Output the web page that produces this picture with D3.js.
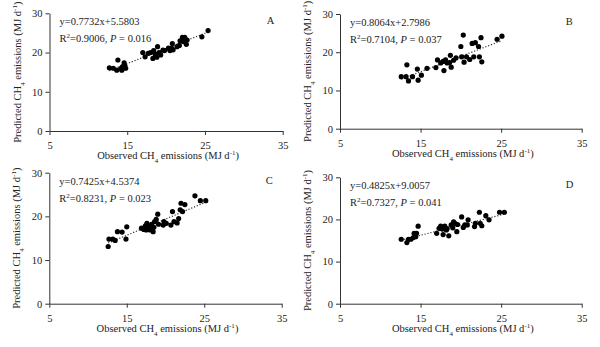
<!DOCTYPE html>
<html>
<head>
<meta charset="utf-8">
<script src="https://cdn.jsdelivr.net/npm/d3@7"></script>
<style>
  body { margin: 0; background: #fff; }
  text { font-family: "Liberation Serif", "Times New Roman", serif; fill: #222; }
</style>
</head>
<body>
<div id="chart"></div>
<script>
// observed / predicted CH4 emissions
const obsA = [12.7, 13.2, 13.65, 13.8, 14.2, 14.3, 14.4, 14.6, 14.7, 14.8, 17.0, 17.3, 17.7, 18.0, 18.3, 18.4, 18.6, 18.8, 18.9, 19.1, 19.3, 19.6, 19.8, 20.3, 20.5, 20.7, 20.8, 20.9, 21.4, 21.7, 21.8, 22.1, 22.2, 22.4, 22.6, 22.7, 24.6, 25.4];
const predA = [16.1, 16.0, 15.5, 18.1, 16.0, 15.5, 16.4, 17.4, 16.6, 16.0, 20.0, 18.9, 19.8, 20.0, 18.5, 20.5, 19.6, 18.8, 21.5, 20.0, 19.4, 20.6, 20.5, 21.1, 20.5, 21.1, 22.3, 20.7, 21.5, 21.8, 23.0, 23.9, 22.8, 23.9, 22.1, 23.2, 24.0, 25.6];

const obsB = [12.6, 13.2, 13.3, 13.5, 14.0, 14.6, 14.7, 15.1, 15.8, 16.9, 17.1, 17.5, 17.8, 17.9, 18.1, 18.3, 18.6, 18.7, 18.8, 19.1, 19.4, 20.0, 20.1, 20.3, 20.4, 20.7, 21.1, 21.4, 21.6, 21.8, 22.2, 22.3, 22.5, 22.6, 24.5, 25.1];
const predB = [13.6, 13.6, 16.7, 12.5, 13.6, 15.6, 12.7, 14.0, 15.8, 16.0, 18.0, 17.2, 17.6, 15.2, 18.0, 17.2, 17.3, 19.2, 16.1, 17.9, 18.5, 21.5, 18.8, 24.5, 17.4, 18.8, 18.1, 22.3, 18.8, 22.5, 21.5, 18.8, 23.8, 17.5, 23.4, 24.2];

const obsC = [12.6, 12.7, 13.2, 13.5, 13.8, 14.4, 15.0, 14.9, 16.9, 17.2, 17.4, 17.5, 17.6, 17.9, 18.0, 18.2, 18.4, 18.5, 18.6, 18.8, 19.0, 19.1, 19.7, 19.8, 20.1, 20.7, 20.9, 21.1, 21.5, 21.7, 21.9, 22.0, 22.2, 22.5, 23.8, 24.5, 25.2];
const predC = [13.1, 14.8, 14.8, 14.5, 16.5, 16.4, 17.6, 14.8, 17.3, 17.0, 17.8, 16.9, 18.4, 17.6, 16.9, 18.2, 16.5, 17.5, 18.8, 19.3, 20.5, 18.2, 18.0, 18.8, 18.4, 18.0, 21.1, 18.8, 18.5, 19.5, 21.5, 23.0, 21.1, 22.7, 24.7, 23.6, 23.6];

const obsD = [12.6, 13.3, 13.5, 13.8, 14.1, 14.2, 14.4, 14.5, 14.7, 17.0, 17.3, 17.5, 17.7, 17.8, 18.0, 18.2, 18.3, 18.5, 18.8, 19.0, 19.1, 19.3, 19.5, 19.6, 20.1, 20.3, 20.5, 20.8, 20.9, 21.7, 21.8, 22.3, 22.4, 22.6, 23.1, 23.5, 24.8, 25.4];
const predD = [15.3, 14.5, 15.3, 15.3, 15.7, 16.7, 15.9, 16.7, 18.4, 16.7, 17.9, 18.4, 17.7, 16.4, 18.4, 17.5, 17.8, 16.1, 18.7, 18.0, 19.4, 19.0, 17.1, 18.8, 20.6, 18.1, 18.7, 18.7, 19.9, 18.3, 19.1, 21.7, 19.1, 18.5, 20.9, 19.9, 21.7, 21.7];

const panelLabels = ['A', 'B', 'C', 'D'];
const slopes = [0.7732, 0.8064, 0.7425, 0.4825];
const intercepts = [5.5803, 2.7986, 4.5374, 9.0057];
const r2Labels = ['0.9006', '0.7104', '0.8231', '0.7327'];
const pLabels = ['0.016', '0.037', '0.023', '0.041'];
const xTicks = [5, 15, 25, 35];
const yTicks = [0, 10, 20, 30];

const W = 600, H = 347;
const svg = d3.select('#chart').append('svg')
    .attr('width', W).attr('height', H);

// plot boxes in pixels: left, right, bottom, top
const boxes = [
    {x0: 49.5, x1: 282.7, y0: 131, y1: 13.3},
    {x0: 340, x1: 581.7, y0: 128.7, y1: 14},
    {x0: 49.3, x1: 281.7, y0: 303.7, y1: 172.7},
    {x0: 340, x1: 581.7, y0: 303.7, y1: 177.3}
];

const series = [
    {obs: obsA, pred: predA},
    {obs: obsB, pred: predB},
    {obs: obsC, pred: predC},
    {obs: obsD, pred: predD}
];

series.forEach((s, i) => {
    const b = boxes[i];
    const xScale = d3.scaleLinear().domain([5, 35]).range([b.x0, b.x1]);
    const yScale = d3.scaleLinear().domain([0, 30]).range([b.y0, b.y1]);

    const g = svg.append('g');

    const xAxis = d3.axisBottom(xScale).tickValues(xTicks).tickSize(4).tickSizeOuter(0);
    const yAxis = d3.axisLeft(yScale).tickValues(yTicks).tickSize(4).tickSizeOuter(0);

    const xg = g.append('g').attr('transform', 'translate(0,' + b.y0 + ')').call(xAxis);
    const yg = g.append('g').attr('transform', 'translate(' + b.x0 + ',0)').call(yAxis);
    [xg, yg].forEach(a => {
        a.select('.domain').attr('stroke', '#333');
        a.selectAll('.tick line').attr('stroke', '#333');
        a.selectAll('.tick text')
            .style('font-family', '"Liberation Serif", serif')
            .style('font-size', '10.5px')
            .attr('fill', '#222');
    });
    xg.selectAll('.tick text').attr('dy', '1.05em');
    yg.selectAll('.tick text').attr('x', -7);

    // trend line (dotted)
    const xmin = d3.min(s.obs), xmax = d3.max(s.obs);
    g.append('line')
        .attr('x1', xScale(xmin)).attr('y1', yScale(slopes[i] * xmin + intercepts[i]))
        .attr('x2', xScale(xmax)).attr('y2', yScale(slopes[i] * xmax + intercepts[i]))
        .attr('stroke', '#333')
        .attr('stroke-width', 1.2)
        .attr('stroke-dasharray', '1.2,1.8');

    // points
    g.selectAll('circle')
        .data(s.obs.map((o, k) => [o, s.pred[k]]))
        .enter()
        .append('circle')
        .attr('cx', d => xScale(d[0]))
        .attr('cy', d => yScale(d[1]))
        .attr('r', 2.6)
        .attr('fill', '#000');

    // equation and stats
    const tx = b.x0 + 10;
    g.append('text')
        .attr('x', tx).attr('y', b.y1 + 12)
        .style('font-size', '10.5px')
        .text('y=' + slopes[i] + 'x+' + intercepts[i].toFixed(4));
    const st = g.append('text')
        .attr('x', tx).attr('y', b.y1 + 29)
        .style('font-size', '10.5px');
    st.append('tspan').text('R');
    st.append('tspan').attr('baseline-shift', 'super').style('font-size', '7px').text('2');
    st.append('tspan').text('=' + r2Labels[i] + ', ');
    st.append('tspan').style('font-style', 'italic').text('P');
    st.append('tspan').text(' = ' + pLabels[i]);

    g.append('text')
        .attr('x', b.x1 - 16).attr('y', b.y1 + 11)
        .style('font-size', '10.5px')
        .text(panelLabels[i]);

    // x title
    const xt = g.append('text')
        .attr('x', (b.x0 + b.x1) / 2 + 2)
        .attr('y', b.y0 + 28)
        .attr('text-anchor', 'middle')
        .style('font-size', '10.5px');
    xt.append('tspan').text('Observed CH');
    xt.append('tspan').attr('baseline-shift', 'sub').style('font-size', '7px').text('4');
    xt.append('tspan').text(' emissions (MJ d');
    xt.append('tspan').attr('baseline-shift', 'super').style('font-size', '7px').text('-1');
    xt.append('tspan').text(')');

    // y title
    const yt = g.append('text')
        .attr('transform', 'translate(' + (b.x0 - 29) + ',' + ((b.y0 + b.y1) / 2) + ') rotate(-90)')
        .attr('text-anchor', 'middle')
        .style('font-size', '10.5px');
    yt.append('tspan').text('Predicted CH');
    yt.append('tspan').attr('baseline-shift', 'sub').style('font-size', '7px').text('4');
    yt.append('tspan').text(' emissions (MJ d');
    yt.append('tspan').attr('baseline-shift', 'super').style('font-size', '7px').text('-1');
    yt.append('tspan').text(')');
});
</script>
</body>
</html>
